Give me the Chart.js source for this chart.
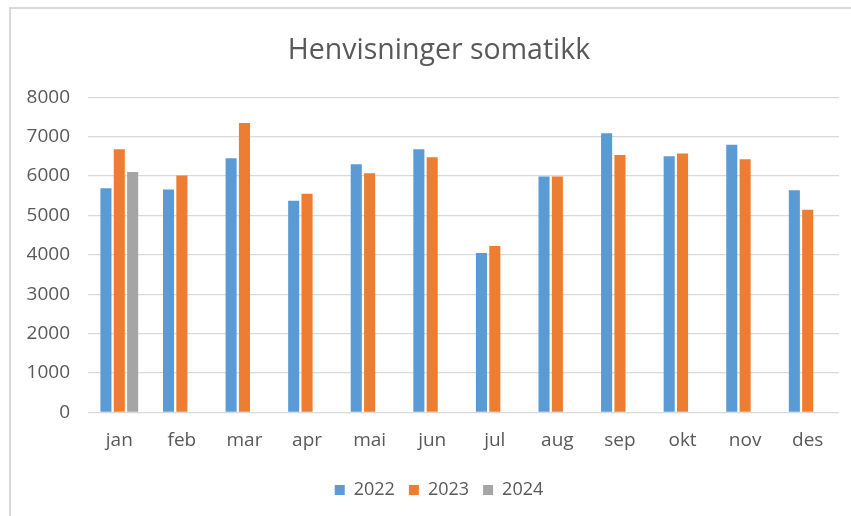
<!DOCTYPE html>
<html lang="no">
<head>
  <meta charset="UTF-8" />
  <title>Henvisninger somatikk</title>
  <script src="https://cdn.jsdelivr.net/npm/chart.js"></script>
  <style>
    body {
      margin: 0;
      background: #fff;
      overflow: hidden;
    }

    .frame {
      position: absolute;
      left: 9px;
      top: 7px;
      width: 840px;
      height: 507px;
      overflow: hidden;
      border-left: 2px solid #d9d9d9;
      border-top: 2px solid #d9d9d9;
    }
  </style>
</head>
<body>
  <div class="frame">
    <!-- a bit wider than the window: the original chart is cut off on the right -->
    <canvas id="chart" width="856" height="507"></canvas>
  </div>

  <script>
    const months = ['jan', 'feb', 'mar', 'apr', 'mai', 'jun', 'jul', 'aug', 'sep', 'okt', 'nov', 'des'];
    const y2022 = [5690, 5660, 6450, 5375, 6300, 6680, 4045, 5990, 7085, 6500, 6795, 5640];
    const y2023 = [6680, 6010, 7345, 5550, 6070, 6475, 4225, 5990, 6535, 6570, 6425, 5145];
    const y2024 = [6100, null, null, null, null, null, null, null, null, null, null, null];
    const yTicks = [0, 1000, 2000, 3000, 4000, 5000, 6000, 7000, 8000];

    const textColor = '#595959';
    const font = "'Open Sans', sans-serif";

    function series(label, data, color) {
      return {
        label: label,
        data: data,
        backgroundColor: color,
        borderWidth: 0,
        categoryPercentage: 0.64,
        barPercentage: 0.83
      };
    }

    new Chart(document.getElementById('chart'), {
      type: 'bar',
      data: {
        labels: months,
        datasets: [
          series('2022', y2022, '#5b9bd5'),
          series('2023', y2023, '#ed7d31'),
          series('2024', y2024, '#a5a5a5')
        ]
      },
      options: {
        responsive: false,
        animation: false,
        layout: { padding: { left: 0, right: 0, top: 0, bottom: 7 } },
        plugins: {
          title: {
            display: true,
            text: 'Henvisninger somatikk',
            color: textColor,
            font: { family: font, size: 28.5, weight: 'normal' },
            padding: { top: 25, bottom: 29 }
          },
          legend: {
            position: 'bottom',
            labels: {
              color: textColor,
              font: { family: font, size: 18 },
              boxWidth: 10,
              boxHeight: 10,
              padding: 14
            }
          },
          tooltip: { enabled: false }
        },
        scales: {
          x: {
            afterFit: (scale) => { scale.height = 54.6; },
            grid: { display: false, drawTicks: false },
            border: { display: false },
            ticks: { color: textColor, font: { family: font, size: 19 }, padding: 17 }
          },
          y: {
            min: 0,
            max: 8000,
            afterFit: (scale) => { scale.width = 77; },
            afterBuildTicks: (scale) => { scale.ticks = yTicks.map(v => ({ value: v })); },
            grid: { color: '#d9d9d9', lineWidth: 1.3, drawTicks: false },
            border: { display: false },
            ticks: {
              color: textColor,
              font: { family: font, size: 19 },
              padding: 18,
              callback: (v) => String(v)
            }
          },
          // empty strip on the right so title and legend stay centred on the whole chart
          pad: {
            type: 'linear',
            position: 'right',
            afterFit: (scale) => { scale.width = 28; },
            grid: { display: false, drawTicks: false },
            border: { display: false },
            ticks: { display: false }
          }
        }
      }
    });
  </script>
</body>
</html>
